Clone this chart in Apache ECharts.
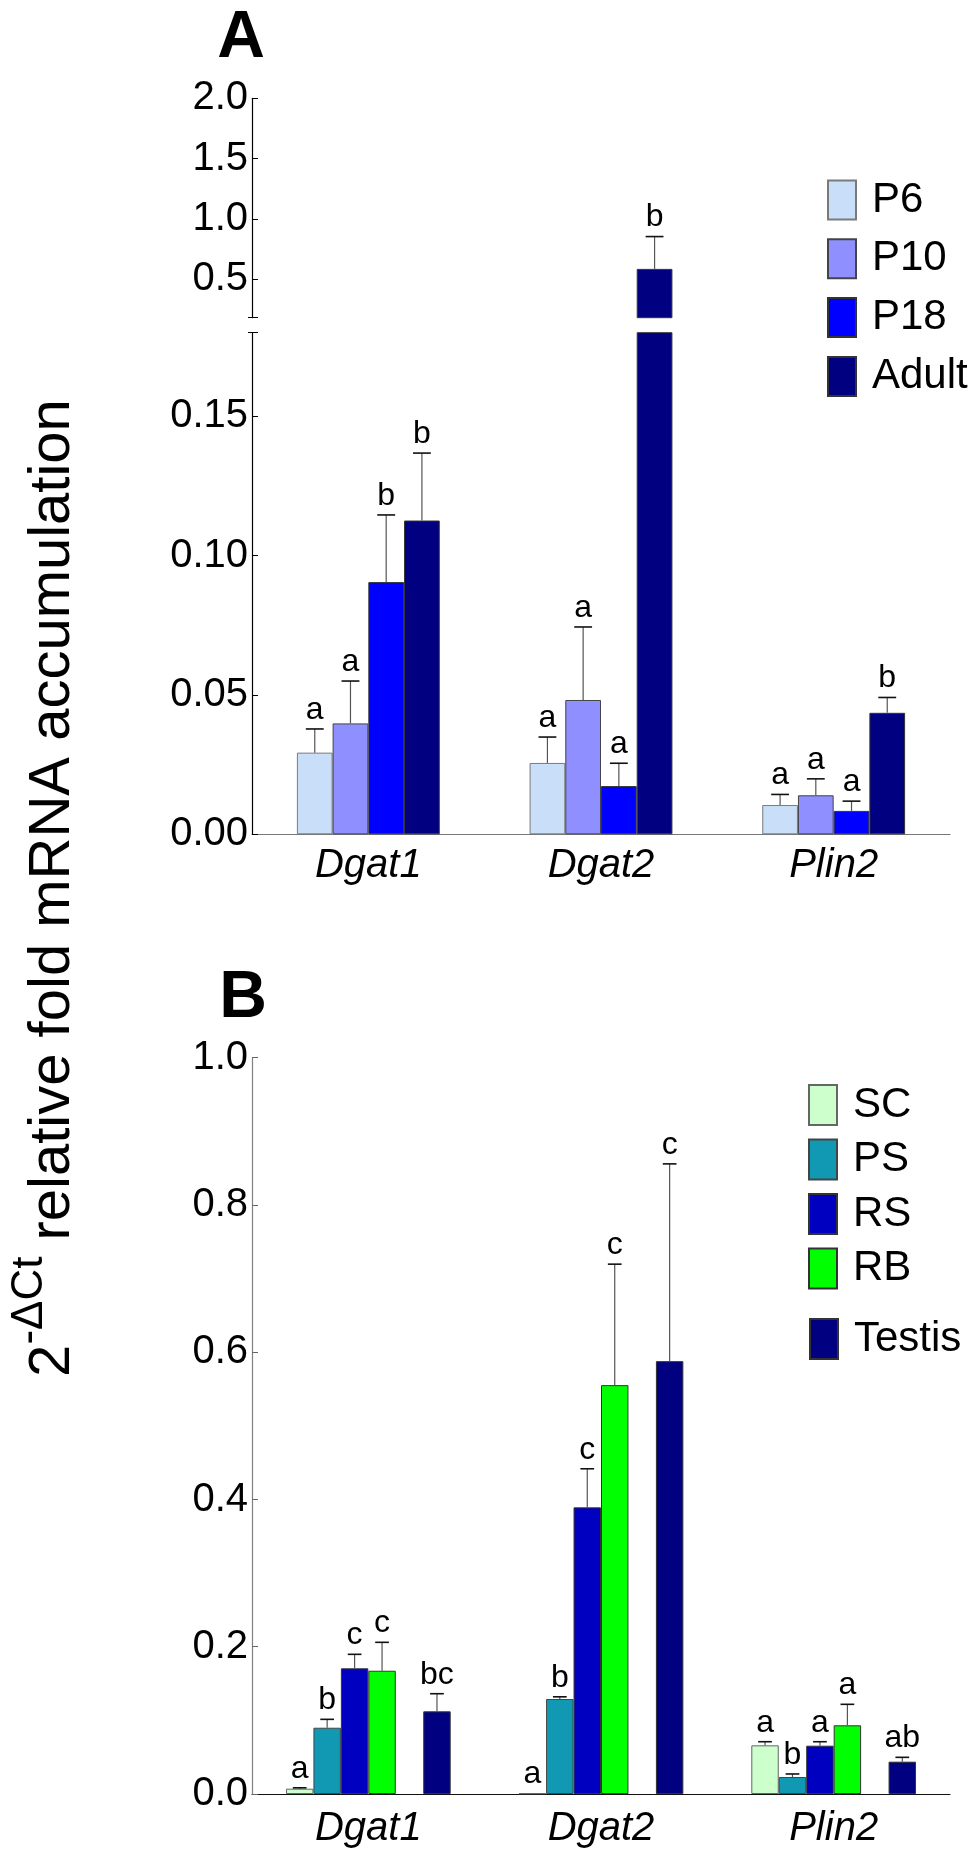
<!DOCTYPE html>
<html><head><meta charset="utf-8">
<script src="https://cdn.jsdelivr.net/npm/echarts@6/dist/echarts.min.js"></script>
<style>html,body{margin:0;padding:0;background:#fff}#c{width:968px;height:1852px}</style>
</head><body><div id="c"></div>
<script>
const FONT = "'Liberation Sans', Arial, Helvetica, sans-serif";
// ---------- shared categories ----------
const genes = ['Dgat1', 'Dgat2', 'Plin2'];

// ---------- Panel A : developmental ages ----------
const agesA = ['P6', 'P10', 'P18', 'Adult'];
const meanP6    = [0.0293, 0.0256, 0.0105];
const meanP10   = [0.0398, 0.0482, 0.0140];
const meanP18   = [0.0905, 0.0173, 0.0084];
const meanAdult = [0.1126, 0.585,  0.0436];
const semP6     = [0.0085, 0.0093, 0.0038];
const semP10    = [0.0152, 0.0262, 0.0059];
const semP18    = [0.0241, 0.0082, 0.0035];
const semAdult  = [0.0242, 0.268,  0.0055];
const letP6     = ['a', 'a', 'a'];
const letP10    = ['a', 'a', 'a'];
const letP18    = ['b', 'a', 'a'];
const letAdult  = ['b', 'b', 'b'];
const ticksAUpper = [0.5, 1.0, 1.5, 2.0];
const ticksALower = [0.00, 0.05, 0.10, 0.15];
const breakA = 0.18;   // axis break value
const maxA = 2.0;

// ---------- Panel B : cell types ----------
const cellsB = ['SC', 'PS', 'RS', 'RB', 'Testis'];
const meanSC     = [0.0072, 0.0010, 0.0661];
const meanPS     = [0.0900, 0.1290, 0.0231];
const meanRS     = [0.1707, 0.3893, 0.0656];
const meanRB     = [0.1674, 0.5553, 0.0933];
const meanTestis = [0.1123, 0.5879, 0.0439];
const semSC      = [0.0012, 0.0000, 0.0049];
const semPS      = [0.0114, 0.0030, 0.0041];
const semRS      = [0.0190, 0.0524, 0.0054];
const semRB      = [0.0386, 0.1643, 0.0285];
const semTestis  = [0.0239, 0.2679, 0.0059];
const letSC      = ['a', 'a', 'a'];
const letPS      = ['b', 'b', 'b'];
const letRS      = ['c', 'c', 'a'];
const letRB      = ['c', 'c', 'a'];
const letTestis  = ['bc', 'c', 'ab'];
const ticksB = [0.0, 0.2, 0.4, 0.6, 0.8, 1.0];
const emptySlot = ['-', '-', '-'];   // blank slot between RB and Testis

// ---------- styling ----------
const colorsA = ['#C9DEF8', '#8F8FFF', '#0000FF', '#000080'];
const bordersA = ['#7a7a7a', '#444', '#333', '#333'];
const colorsB = ['#CCFFCC', '#1199B3', '#0000C0', '#00FF00', '#000080'];
const bordersB = ['#666', '#444', '#333', '#333', '#333'];
const GAP_A = 0.386, GAP_B = 0.292;

const meansA = [meanP6, meanP10, meanP18, meanAdult];
const semsA  = [semP6, semP10, semP18, semAdult];
const letsA  = [letP6, letP10, letP18, letAdult];
const meansB = [meanSC, meanPS, meanRS, meanRB, meanTestis];
const semsB  = [semSC, semPS, semRS, semRB, semTestis];
const letsB  = [letSC, letPS, letRS, letRB, letTestis];
const slotB  = [0, 1, 2, 3, 5];

function buildItems(means, sems, lets, slots, filter) {
  const out = [];
  means.forEach((arr, s) => arr.forEach((m, c) => {
    if (!filter || filter(m)) out.push({cat: c, slot: slots[s], mean: m, sem: sems[s][c], letter: lets[s][c]});
  }));
  return out;
}
const itemsALow = buildItems(meansA, semsA, letsA, [0, 1, 2, 3], m => m <= breakA);
const itemsAUp  = buildItems(meansA, semsA, letsA, [0, 1, 2, 3], m => m > breakA);
const itemsB    = buildItems(meansB, semsB, letsB, slotB, null);

function errRenderer(nSlots, gapRatio, items) {
  return function (params, api) {
    const it = items[params.dataIndex];
    const band = api.size([1, 0])[0];
    const bw = band * (1 - gapRatio) / nSlots;
    const base = api.coord([it.cat, it.mean]);
    const cx = base[0] + (it.slot - (nSlots - 1) / 2) * bw;
    const yTop = api.coord([it.cat, it.mean + it.sem])[1];
    const children = [];
    if (it.sem > 0) {
      children.push({type: 'line', shape: {x1: cx, y1: base[1], x2: cx, y2: yTop}, style: {stroke: '#555', lineWidth: 1.2}});
      children.push({type: 'line', shape: {x1: cx - bw / 4, y1: yTop, x2: cx + bw / 4, y2: yTop}, style: {stroke: '#111', lineWidth: 1.6}});
    }
    children.push({type: 'text', x: cx, y: yTop - 3, style: {text: it.letter, fontSize: 32, fontFamily: FONT, fill: '#000', align: 'center', verticalAlign: 'bottom'}});
    return {type: 'group', children: children};
  };
}

const tickLabel = {fontSize: 40, fontFamily: FONT, color: '#000', margin: 4};
const grids = [
  {left: 252, width: 698, top: 98.3, height: 219.4},
  {left: 252, width: 698, top: 332.7, height: 501.6},
  {left: 252, width: 698, top: 1057.7, height: 736.3}
];
const xAxes = [
  {type: 'category', gridIndex: 0, data: genes, show: false},
  {type: 'category', gridIndex: 1, data: genes, axisLine: {lineStyle: {color: '#777', width: 1.2}}, axisTick: {show: false},
   axisLabel: {fontSize: 40, fontStyle: 'italic', fontFamily: FONT, color: '#000', margin: 12}},
  {type: 'category', gridIndex: 2, data: genes, axisLine: {lineStyle: {color: '#111', width: 1.2}}, axisTick: {show: false},
   axisLabel: {fontSize: 40, fontStyle: 'italic', fontFamily: FONT, color: '#000', margin: 15}}
];
const yAxes = [
  {type: 'value', gridIndex: 0, position: 'left', min: breakA, max: maxA, splitLine: {show: false},
   axisLine: {show: true, lineStyle: {color: '#000', width: 1.2}},
   axisTick: {show: true, inside: true, length: 6, lineStyle: {color: '#000'}, customValues: [breakA].concat(ticksAUpper)},
   axisLabel: Object.assign({customValues: ticksAUpper, formatter: v => v.toFixed(1)}, tickLabel)},
  {type: 'value', gridIndex: 1, position: 'left', min: 0, max: breakA, splitLine: {show: false},
   axisLine: {show: true, lineStyle: {color: '#000', width: 1.2}},
   axisTick: {show: true, inside: true, length: 6, lineStyle: {color: '#000'}, customValues: ticksALower.concat([breakA])},
   axisLabel: Object.assign({customValues: ticksALower, formatter: v => v.toFixed(2)}, tickLabel)},
  {type: 'value', gridIndex: 2, position: 'left', min: 0, max: 1.0, interval: 0.2, splitLine: {show: false},
   axisLine: {show: true, lineStyle: {color: '#808080', width: 1.2}},
   axisTick: {show: true, inside: true, length: 6, lineStyle: {color: '#666'}},
   axisLabel: Object.assign({customValues: ticksB, formatter: v => v.toFixed(1)}, tickLabel)},
  // break marks (left stubs)
  {type: 'value', gridIndex: 0, position: 'left', offset: 0, min: breakA, max: maxA, splitLine: {show: false}, axisLine: {show: false}, axisLabel: {show: false},
   axisTick: {show: true, inside: false, length: 4, lineStyle: {color: '#000'}, customValues: [breakA]}},
  {type: 'value', gridIndex: 1, position: 'left', offset: 0, min: 0, max: breakA, splitLine: {show: false}, axisLine: {show: false}, axisLabel: {show: false},
   axisTick: {show: true, inside: false, length: 4, lineStyle: {color: '#000'}, customValues: [breakA]}}
];

const series = [];
agesA.forEach((name, i) => {
  series.push({type: 'bar', name: name, xAxisIndex: 1, yAxisIndex: 1, data: meansA[i], barGap: '0%', barCategoryGap: (GAP_A * 100) + '%',
    itemStyle: {color: colorsA[i], borderColor: bordersA[i], borderWidth: 1}, clip: true});
});
agesA.forEach((name, i) => {
  series.push({type: 'bar', name: name, xAxisIndex: 0, yAxisIndex: 0, data: meansA[i].map(v => v > breakA ? v : '-'), barGap: '0%', barCategoryGap: (GAP_A * 100) + '%',
    itemStyle: {color: colorsA[i], borderColor: bordersA[i], borderWidth: 1}, clip: true});
});
const seriesB = [['SC', meanSC], ['PS', meanPS], ['RS', meanRS], ['RB', meanRB], ['_gap', emptySlot], ['Testis', meanTestis]];
let ci = 0;
seriesB.forEach(([name, data]) => {
  const isGap = name === '_gap';
  const k = isGap ? 0 : ci++;
  series.push({type: 'bar', name: name, xAxisIndex: 2, yAxisIndex: 2, data: data, barGap: '0%', barCategoryGap: (GAP_B * 100) + '%',
    itemStyle: {color: isGap ? 'transparent' : colorsB[k], borderColor: isGap ? 'transparent' : bordersB[k], borderWidth: 1}});
});
series.push({type: 'custom', xAxisIndex: 1, yAxisIndex: 1, renderItem: errRenderer(4, GAP_A, itemsALow),
  data: itemsALow.map(it => [it.cat, it.mean + it.sem]), encode: {x: 0, y: 1}, z: 5});
series.push({type: 'custom', xAxisIndex: 0, yAxisIndex: 0, renderItem: errRenderer(4, GAP_A, itemsAUp),
  data: itemsAUp.map(it => [it.cat, it.mean + it.sem]), encode: {x: 0, y: 1}, z: 5});
series.push({type: 'custom', xAxisIndex: 2, yAxisIndex: 2, renderItem: errRenderer(6, GAP_B, itemsB),
  data: itemsB.map(it => [it.cat, it.mean + it.sem]), encode: {x: 0, y: 1}, z: 5});

const legText = {fontSize: 42, fontFamily: FONT, color: '#000', padding: [0, 0, 0, 11]};
const option = {
  animation: false,
  backgroundColor: '#fff',
  grid: grids,
  xAxis: xAxes,
  yAxis: yAxes,
  legend: [
    {data: agesA, orient: 'vertical', left: 822, top: 174, itemWidth: 28, itemHeight: 39, itemGap: 16.8, icon: 'rect', selectedMode: false,
     textStyle: Object.assign({lineHeight: 39}, legText)},
    {data: cellsB.slice(0, 4), orient: 'vertical', left: 803, top: 1079, itemWidth: 28, itemHeight: 40, itemGap: 12.5, icon: 'rect', selectedMode: false,
     textStyle: Object.assign({lineHeight: 40}, legText)},
    {data: cellsB.slice(4), orient: 'vertical', left: 804, top: 1313, itemWidth: 28, itemHeight: 40, icon: 'rect', selectedMode: false,
     textStyle: Object.assign({lineHeight: 40}, legText)}
  ],
  graphic: [
    {type: 'text', x: 241, y: 39, style: {text: 'A', fontSize: 66, fontWeight: 'bold', fontFamily: FONT, fill: '#000', align: 'center', verticalAlign: 'middle'}},
    {type: 'text', x: 243, y: 999, style: {text: 'B', fontSize: 66, fontWeight: 'bold', fontFamily: FONT, fill: '#000', align: 'center', verticalAlign: 'middle'}},
    {type: 'text', x: 53, y: 888, rotation: Math.PI / 2,
     style: {text: '{n|2}{s|-\u0394Ct}{n| relative fold mRNA accumulation}', fill: '#000', align: 'center', verticalAlign: 'middle',
       rich: {n: {fontSize: 58, fontFamily: FONT, fill: '#000'}, s: {fontSize: 44, fontFamily: FONT, fill: '#000', padding: [0, 0, 46, 0]}}}}
  ],
  series: series
};
const chart = echarts.init(document.getElementById('c'), null, {renderer: 'canvas'});
chart.setOption(option);
</script></body></html>
